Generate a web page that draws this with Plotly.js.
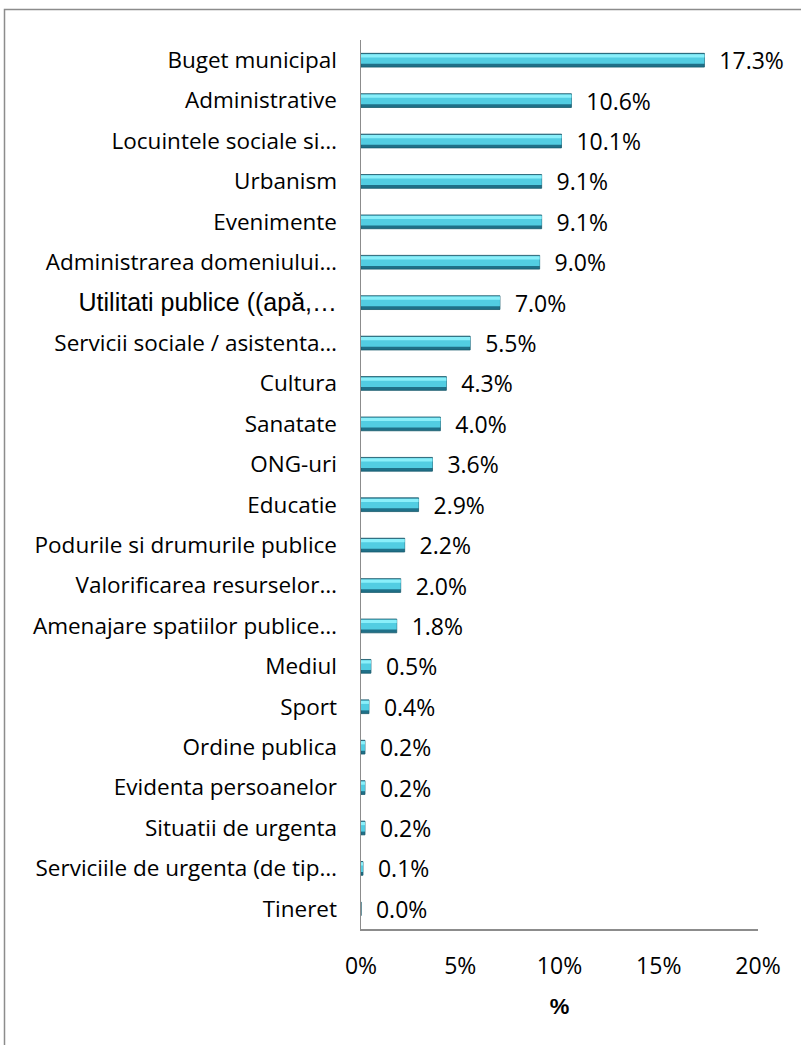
<!DOCTYPE html>
<html>
<head>
<meta charset="utf-8">
<script src="https://cdn.plot.ly/plotly-3.0.1.min.js"></script>
<style>html,body{margin:0;padding:0;background:#fff;}#chart{width:801px;height:1045px;}</style>
</head>
<body>
<div id="chart"></div>
<script>
const categories = [
  "Buget municipal",
  "Administrative",
  "Locuintele sociale si…",
  "Urbanism",
  "Evenimente",
  "Administrarea domeniului…",
  "Utilitati publice ((apă,…",
  "Servicii sociale / asistenta…",
  "Cultura",
  "Sanatate",
  "ONG-uri",
  "Educatie",
  "Podurile si drumurile publice",
  "Valorificarea resurselor…",
  "Amenajare spatiilor publice…",
  "Mediul",
  "Sport",
  "Ordine publica",
  "Evidenta persoanelor",
  "Situatii de urgenta",
  "Serviciile de urgenta (de tip…",
  "Tineret"
];
const values = [17.3, 10.6, 10.1, 9.1, 9.1, 9.0, 7.0, 5.5, 4.3, 4.0, 3.6, 2.9, 2.2, 2.0, 1.8, 0.5, 0.4, 0.2, 0.2, 0.2, 0.1, 0.0];
const xTickVals = [0, 5, 10, 15, 20];
const xTickText = ["0%", "5%", "10%", "15%", "20%"];
const xTitle = "%";
const altFontLabel = "Utilitati publice ((apă,…";

const FONT = '"Open Sans", sans-serif';
const FS = 22.5;

const tickText = categories.map(c => c === altFontLabel
  ? '<span style="font-family:Liberation Sans, Arial, sans-serif;font-size:25px">' + c + '</span>'
  : c);

const base = {
  type: 'bar', orientation: 'h', x: values, y: categories,
  hoverinfo: 'skip', showlegend: false
};
const traces = [
  Object.assign({}, base, {
    marker: {color: '#1f7088', line: {color: '#17596b', width: 0.8}},
    width: 0.34, offset: -0.17,
    text: values.map(v => '\u00a0\u00a0' + v.toFixed(1) + '%'),
    textposition: 'outside', cliponaxis: false, constraintext: 'none',
    textfont: {family: FONT, size: 23, color: '#000'}
  }),
  Object.assign({}, base, {
    marker: {color: '#52cde2', line: {width: 0}},
    width: 0.24, offset: -0.15
  }),
  Object.assign({}, base, {
    marker: {color: '#8aeffa', line: {width: 0}},
    width: 0.08, offset: -0.15
  })
];

const layout = {
  width: 801, height: 1045,
  margin: {l: 361, r: 43, t: 40, b: 116},
  paper_bgcolor: '#fff', plot_bgcolor: '#fff',
  barmode: 'overlay',
  font: {family: FONT, size: FS, color: '#000'},
  xaxis: {
    range: [0, 20], tickvals: xTickVals, ticktext: xTickText,
    showgrid: false, zeroline: false,
    showline: true, linecolor: '#8c8c8c', linewidth: 1.5,
    ticks: '', ticklabelstandoff: 16,
    tickfont: {family: FONT, size: 23, color: '#000'},
    title: {text: xTitle, standoff: 18, font: {family: 'Liberation Sans, Arial, sans-serif', size: 22, color: '#000', weight: 'bold'}},
    fixedrange: true
  },
  yaxis: {
    type: 'category', autorange: 'reversed',
    tickvals: categories, ticktext: tickText,
    showgrid: false, zeroline: false,
    showline: true, linecolor: '#8c8c8c', linewidth: 1.5,
    ticks: '', ticklabelstandoff: 18,
    tickfont: {family: FONT, size: FS, color: '#000'},
    fixedrange: true
  },
  shapes: [{
    type: 'rect', xref: 'paper', yref: 'paper',
    x0: (4.5 - 361) / 397, x1: (812 - 361) / 397,
    y0: (929 - 1060) / 889, y1: (929 - 9.5) / 889,
    line: {color: '#8c8c8c', width: 1.5}, fillcolor: 'rgba(0,0,0,0)', layer: 'below'
  }]
};

Plotly.newPlot('chart', traces, layout, {displayModeBar: false, staticPlot: true});
</script>
</body>
</html>
